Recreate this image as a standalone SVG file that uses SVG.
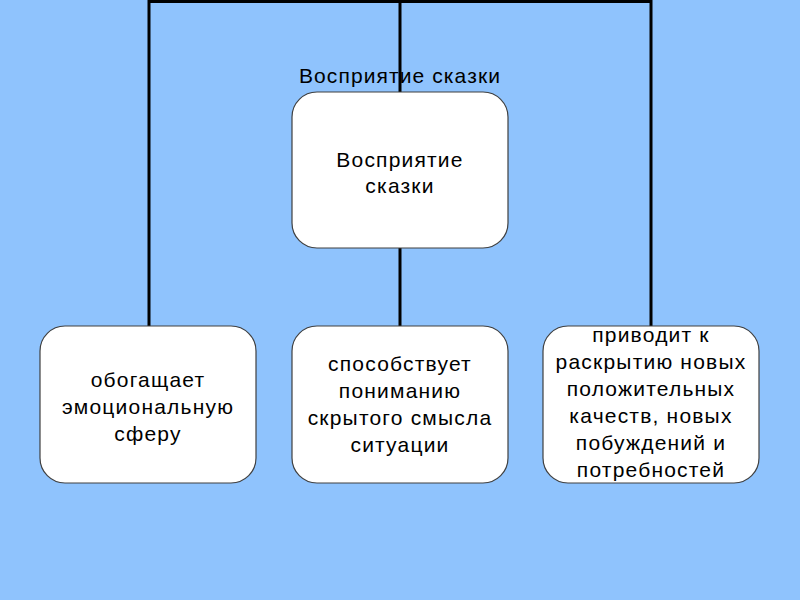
<svg xmlns="http://www.w3.org/2000/svg" width="800" height="600" viewBox="0 0 800 600">
<style>
.box{fill:#fff;stroke:#404040;stroke-width:1.2}
.t{font-family:"Liberation Sans",Arial,sans-serif;font-size:21px;fill:#000;text-anchor:middle;letter-spacing:1.2px}
.c{fill:none;stroke:#000;stroke-width:3}
</style>
<defs>
<clipPath id="cr"><rect x="543" y="326" width="216" height="157" rx="25"/></clipPath>
</defs>
<rect width="800" height="600" fill="#8fc3fd"/>
<g id="connectors">
<path class="c" d="M149 326V1.5H651V326"/>
<path class="c" d="M400 1.5V93"/>
<path class="c" d="M400 248V326"/>
</g>
<text class="t" x="400" y="83" style="letter-spacing:1.1px">Восприятие сказки</text>
<g id="root">
<rect class="box" x="292" y="92" width="216" height="156" rx="25"/>
<text class="t" x="400" y="167">Восприятие</text>
<text class="t" x="400" y="193">сказки</text>
</g>
<g id="n1">
<rect class="box" x="40" y="326" width="216" height="157" rx="25"/>
<text class="t" x="148" y="387">обогащает</text>
<text class="t" x="148" y="414">эмоциональную</text>
<text class="t" x="148" y="441">сферу</text>
</g>
<g id="n2">
<rect class="box" x="292" y="326" width="216" height="157" rx="25"/>
<text class="t" x="400" y="371">способствует</text>
<text class="t" x="400" y="398">пониманию</text>
<text class="t" x="400" y="425">скрытого смысла</text>
<text class="t" x="400" y="452">ситуации</text>
</g>
<g id="n3">
<rect class="box" x="543" y="326" width="216" height="157" rx="25"/>
<g clip-path="url(#cr)">
<text class="t" x="651" y="342">приводит к</text>
<text class="t" x="651" y="369">раскрытию новых</text>
<text class="t" x="651" y="396">положительных</text>
<text class="t" x="651" y="423">качеств, новых</text>
<text class="t" x="651" y="450">побуждений и</text>
<text class="t" x="651" y="477">потребностей</text>
</g>
</g>
</svg>
